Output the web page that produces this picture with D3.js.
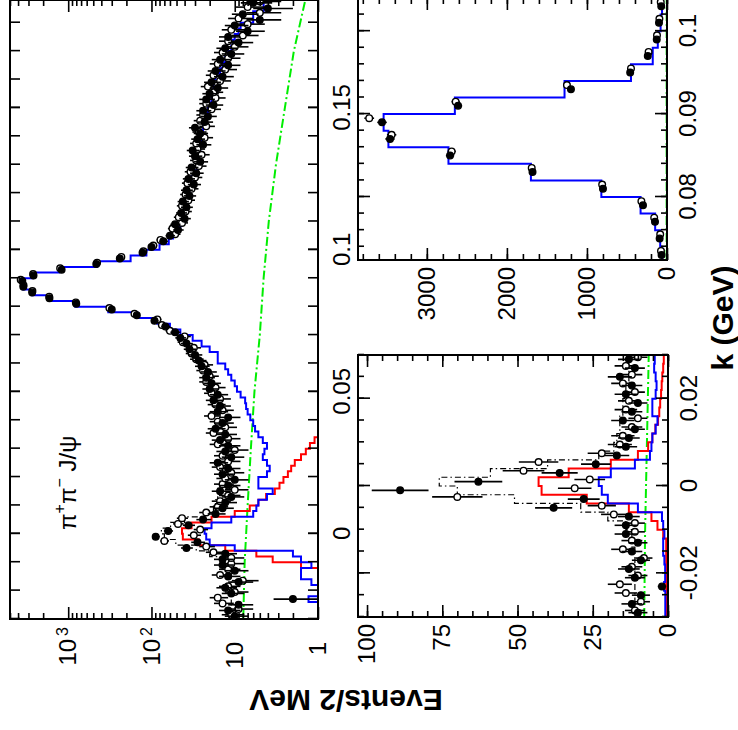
<!DOCTYPE html>
<html>
<head>
<meta charset="utf-8">
<script src="https://cdn.jsdelivr.net/npm/d3@7"></script>
<style>
  body { margin: 0; background: #fff; }
  svg { display: block; }
</style>
</head>
<body>
<svg id="chart" width="738" height="730"></svg>
<script>
// ---- binning of the k spectrum (2 MeV bins starting at -30 MeV) ----
const binStart = -0.030;
const binWidth = 0.002;

// total fit (blue), one value per bin from -0.030 to 0.188 GeV
const fitTotal = [
  0.9, 0.9, 0.9, 1.3, 0.95, 0.95, 1.2, 1.6, 1.6, 1.2,
  1.6, 2.0, 10, 20, 22, 23, 19, 11, 6, 5.5,
  5.2, 4.1, 3.5, 5.2, 5.2, 4.1, 3.8, 4.1, 4.6, 4.4,
  4.1, 4.6, 5.2, 5.7, 6.0, 6.5, 7.0, 7.3, 7.5, 8.5,
  9.4, 10, 11, 12, 13, 16, 16, 20, 25, 32,
  45, 60, 85, 148, 330, 820, 1700, 2730, 3480, 3540,
  2650, 1280, 450, 178, 115, 80, 62, 55, 50, 45,
  42, 40, 40, 38, 36, 35, 34, 33, 30, 28,
  27, 27, 26, 26, 25, 25, 24, 24, 22, 21,
  20, 19, 19, 18, 18, 17, 15, 14, 13, 12,
  11, 10.5, 10, 9, 8.5, 6, 6, 4.5, 4.5
];

// X(3872) component (red), bins from -0.030 GeV
const x3872Comp = [
  0.6, 0.6, 0.6, 0.6, 0.6, 0.6, 0.6, 0.6, 0.6, 1.6,
  3.5, 5.5, 13, 27, 42, 43, 33, 19, 10, 6.6,
  5.2, 4.2, 3.3, 2.9, 2.6, 2.3, 2.1, 1.9, 1.6, 1.4,
  1.25, 1.1, 0.9
];

// dash-dotted black histogram, bins from -0.030 to 0.030 GeV
const envelope = [
  11, 11, 11, 11, 11, 11, 11, 11, 12, 12,
  14, 20, 29, 51, 70, 76, 59, 40, 23, 18,
  17, 16, 16, 15, 15, 14, 14, 13, 13, 13
];

// smooth background (green), [k, events]
const background = [
  [-0.03, 7.9], [-0.01, 7.6], [0.01, 7.0], [0.03, 6.4], [0.05, 5.8], [0.07, 5.0],
  [0.09, 4.5], [0.11, 3.9], [0.13, 3.2], [0.15, 2.5], [0.17, 1.95], [0.188, 1.42]
];

// data, filled markers, one value per bin centre
const dataFilled = [
  10, 12, 9, 2, 11, 13, 9, 12, 10, 14,
  14, 13, 38, 28, 89, 63, 36, 24, 17, 14,
  13, 11, 15, 12, 10, 14, 12, 16, 11, 13,
  12, 15, 13, 17, 14, 12, 16, 15, 18, 16,
  20, 19, 22, 21, 25, 27, 30, 35, 38, 45,
  52, 68, 92, 150, 300, 800, 1680, 2710, 3460, 3560,
  2610, 1200, 460, 240, 128, 100, 72, 60, 48, 52,
  40, 44, 38, 42, 35, 38, 31, 36, 29, 33,
  26, 30, 32, 24, 28, 26, 30, 23, 21, 24,
  18, 22, 20, 16, 19, 14, 17, 12, 15, 11,
  13, 9, 12, 7, 10, 5, 8, 4, 6
];

// data, open markers, one value per bin centre
const dataOpen = [
  11, 9, 14, 16, 10, 12, 8, 15, 12, 11,
  11, 18, 22, 70, 31, 26, 48, 43, 22, 16,
  15, 12, 10, 14, 13, 11, 15, 12, 14, 10,
  16, 12, 18, 13, 16, 19, 14, 17, 15, 19,
  17, 22, 20, 24, 23, 29, 33, 31, 42, 40,
  60, 75, 85, 160, 320, 810, 1690, 2690, 3440, 3720,
  2640, 1250, 450, 230, 125, 95, 78, 52, 56, 43,
  47, 39, 43, 36, 39, 33, 37, 30, 34, 27,
  29, 25, 28, 29, 23, 27, 22, 26, 24, 19,
  22, 17, 18, 21, 15, 18, 13, 16, 12, 14,
  10, 12, 8, 11, 7, 9, 5, 7, 5
];

// tick labels
const mainKLabels = [0, 0.05, 0.1, 0.15];
const mainCountLabels = [1, 10, 100, 1000];
const lowKLabels = [-0.02, 0, 0.02];
const lowCountLabels = [0, 25, 50, 75, 100];
const peakKLabels = [0.08, 0.09, 0.1];
const peakCountLabels = [0, 1000, 2000, 3000];

const yTitle = "Events/2 MeV";
const xTitle = "k (GeV)";

// ---------------------------------------------------------------
const FONT = "'Liberation Sans', Arial, Helvetica, sans-serif";
const BLUE = "#0000ff", RED = "#ff0000", GREEN = "#00ee00";

const svg = d3.select("#chart");
const defs = svg.append("defs");
// the figure is laid out in its own frame and turned a quarter turn
const root = svg.append("g").attr("transform", "translate(0,730) rotate(-90)");

const kFmt = d => (d === 0 ? "0" : String(+d.toFixed(3)));

function styleAxis(sel, fs) {
  sel.select(".domain").remove();
  sel.selectAll(".tick line").attr("stroke", "#000").attr("stroke-width", 1.6);
  sel.selectAll(".tick text").attr("font-family", FONT).attr("font-size", fs).attr("fill", "#000");
}

function drawAxes(g, p, kx, cy, cfg) {
  cfg.kSets.forEach(s => {
    g.append("g").attr("transform", `translate(0,${p.y1})`)
      .call(d3.axisBottom(kx).tickValues(s.vals).tickSizeInner(-s.len).tickSizeOuter(0)
        .tickPadding(cfg.kPad).tickFormat(s.labels ? kFmt : () => ""))
      .call(styleAxis, cfg.fs);
    g.append("g").attr("transform", `translate(0,${p.y0})`)
      .call(d3.axisTop(kx).tickValues(s.vals).tickSizeInner(-s.len).tickSizeOuter(0).tickFormat(() => ""))
      .call(styleAxis, cfg.fs);
  });
  cfg.cSets.forEach(s => {
    const ax = g.append("g").attr("transform", `translate(${p.x0},0)`)
      .call(d3.axisLeft(cy).tickValues(s.vals).tickSizeInner(-s.len).tickSizeOuter(0)
        .tickPadding(cfg.cPad).tickFormat(s.labels ? cfg.cFmt : () => ""))
      .call(styleAxis, cfg.fs);
    if (s.labels && cfg.cPost) cfg.cPost(ax);
    g.append("g").attr("transform", `translate(${p.x1},0)`)
      .call(d3.axisRight(cy).tickValues(s.vals).tickSizeInner(-s.len).tickSizeOuter(0).tickFormat(() => ""))
      .call(styleAxis, cfg.fs);
  });
}

function stepPath(vals, kx, cy, floor) {
  const pts = [];
  vals.forEach((v, i) => {
    const a = binStart + i * binWidth, b = a + binWidth;
    const c = Math.max(v, floor);
    pts.push([kx(a), cy(c)], [kx(b), cy(c)]);
  });
  return d3.line()(pts);
}

function drawPanel(p) {
  const g = root.append("g");
  const clipId = "clip-" + p.name;
  defs.append("clipPath").attr("id", clipId).append("rect")
    .attr("x", p.x0).attr("y", p.y0).attr("width", p.x1 - p.x0).attr("height", p.y1 - p.y0);
  const body = g.append("g").attr("clip-path", `url(#${clipId})`);
  const kx = p.kx, cy = p.cy, floor = p.floor;

  // background (green, dash-dotted)
  body.append("path")
    .attr("d", d3.line().x(d => kx(d[0])).y(d => cy(d[1]))(background))
    .attr("fill", "none").attr("stroke", GREEN).attr("stroke-width", 2)
    .attr("stroke-dasharray", "9,3,2,3");

  // dash-dotted black histogram
  body.append("path")
    .attr("d", stepPath(envelope, kx, cy, floor))
    .attr("fill", "none").attr("stroke", "#000").attr("stroke-width", 1.2)
    .attr("stroke-dasharray", "6,3,1.5,3");

  // X(3872) component (red); zero outside its listed range
  const nBins = fitTotal.length;
  const redAll = d3.range(nBins).map(i => (i < x3872Comp.length ? x3872Comp[i] : 0));
  body.append("path")
    .attr("d", stepPath(redAll, kx, cy, floor))
    .attr("fill", "none").attr("stroke", RED).attr("stroke-width", 2);

  // total (blue)
  body.append("path")
    .attr("d", stepPath(fitTotal, kx, cy, floor))
    .attr("fill", "none").attr("stroke", BLUE).attr("stroke-width", 2);

  // data points with Poisson error bars
  const [kLo, kHi] = kx.domain();
  [[dataOpen, false, 0.0005], [dataFilled, true, 0]].forEach(([vals, filled, shift]) => {
    const pts = vals.map((v, i) => ({ k: binStart + binWidth * (i + 0.5) + shift, v }))
      .filter(d => d.k > kLo && d.k < kHi);
    body.append("g").selectAll("line").data(pts).join("line")
      .attr("x1", d => kx(d.k)).attr("x2", d => kx(d.k))
      .attr("y1", d => cy(Math.max(d.v - Math.sqrt(d.v), floor)))
      .attr("y2", d => cy(d.v + Math.sqrt(d.v)))
      .attr("stroke", "#000").attr("stroke-width", 1.6);
    body.append("g").selectAll("circle").data(pts).join("circle")
      .attr("cx", d => kx(d.k)).attr("cy", d => cy(d.v)).attr("r", 3.3)
      .attr("fill", filled ? "#000" : "#fff").attr("stroke", "#000").attr("stroke-width", 1.4);
  });

  // frame
  g.append("rect").attr("x", p.x0).attr("y", p.y0)
    .attr("width", p.x1 - p.x0).attr("height", p.y1 - p.y0)
    .attr("fill", "none").attr("stroke", "#000").attr("stroke-width", 2);

  drawAxes(g, p, kx, cy, p.axes);
  return g;
}

// ---- main panel (log scale) ----
const mainP = { name: "main", x0: 111, x1: 730, y0: 10, y1: 318, floor: 0.5 };
mainP.kx = d3.scaleLinear().domain([-0.03, 0.188]).range([mainP.x0, mainP.x1]);
mainP.cy = d3.scaleLog().domain([1, 5000]).range([mainP.y1, mainP.y0]);
const logMinor = [];
[1, 10, 100, 1000].forEach(dec => d3.range(2, 10).forEach(m => { if (dec * m <= 5000) logMinor.push(dec * m); }));
mainP.axes = {
  fs: 24, kPad: 15, cPad: 23,
  kSets: [
    { vals: d3.range(-3, 19).map(i => i / 100), len: 10, labels: false },
    { vals: mainKLabels, len: 10, labels: true }
  ],
  cSets: [
    { vals: logMinor, len: 6, labels: false },
    { vals: mainCountLabels, len: 12, labels: true }
  ],
  cFmt: d => (d >= 100 ? "10" : String(d)),
  cPost: ax => {
    ax.selectAll(".tick text").filter(d => d >= 100).each(function (d) {
      const t = d3.select(this);
      t.attr("x", -8);
      t.append("tspan").attr("dy", "-0.5em").attr("dx", 3).attr("font-size", 16)
        .text(String(Math.round(Math.log10(d))));
    });
  }
};
const mainG = drawPanel(mainP);

// decay-mode label
const lbl = mainG.append("text").attr("x", 200).attr("y", 76)
  .attr("font-family", FONT).attr("font-size", 24).attr("fill", "#000");
lbl.append("tspan").text("π");
lbl.append("tspan").attr("dy", -11).attr("font-size", 16).text("+");
lbl.append("tspan").attr("dy", 11).text("π");
lbl.append("tspan").attr("dy", -11).attr("font-size", 16).text("−");
lbl.append("tspan").attr("dy", 11).text(" J/ψ");

// ---- lower-left inset: around threshold ----
const lowP = { name: "low", x0: 113, x1: 375, y0: 358, y1: 668, floor: 0 };
lowP.kx = d3.scaleLinear().domain([-0.03, 0.03]).range([lowP.x0, lowP.x1]);
lowP.cy = d3.scaleLinear().domain([0, 103]).range([lowP.y1, lowP.y0]);
lowP.axes = {
  fs: 24, kPad: 12, cPad: 7,
  kSets: [
    { vals: d3.range(-6, 7).map(i => i * 0.005), len: 6, labels: false },
    { vals: lowKLabels, len: 12, labels: true }
  ],
  cSets: [
    { vals: d3.range(0, 21).map(i => i * 5), len: 6, labels: false },
    { vals: lowCountLabels, len: 12, labels: true }
  ],
  cFmt: d => String(d)
};
drawPanel(lowP);

// ---- lower-right inset: psi(2S) peak ----
const peakP = { name: "peak", x0: 470, x1: 732, y0: 358, y1: 667, floor: 0 };
peakP.kx = d3.scaleLinear().domain([0.0724, 0.104]).range([peakP.x0, peakP.x1]);
peakP.cy = d3.scaleLinear().domain([0, 3860]).range([peakP.y1, peakP.y0]);
peakP.axes = {
  fs: 24, kPad: 12, cPad: 7,
  kSets: [
    { vals: d3.range(37, 53).map(i => i * 0.002), len: 6, labels: false },
    { vals: peakKLabels, len: 12, labels: true }
  ],
  cSets: [
    { vals: d3.range(0, 20).map(i => i * 200), len: 6, labels: false },
    { vals: peakCountLabels, len: 12, labels: true }
  ],
  cFmt: d => String(d)
};
drawPanel(peakP);

// ---- axis titles ----
root.append("text")
  .attr("transform", "translate(40,346) rotate(-90)")
  .attr("text-anchor", "middle").attr("font-family", FONT)
  .attr("font-size", 30).attr("font-weight", "bold").text(yTitle);
root.append("text")
  .attr("x", 412).attr("y", 733).attr("text-anchor", "middle")
  .attr("font-family", FONT).attr("font-size", 30).attr("font-weight", "bold").text(xTitle);
</script>
</body>
</html>
